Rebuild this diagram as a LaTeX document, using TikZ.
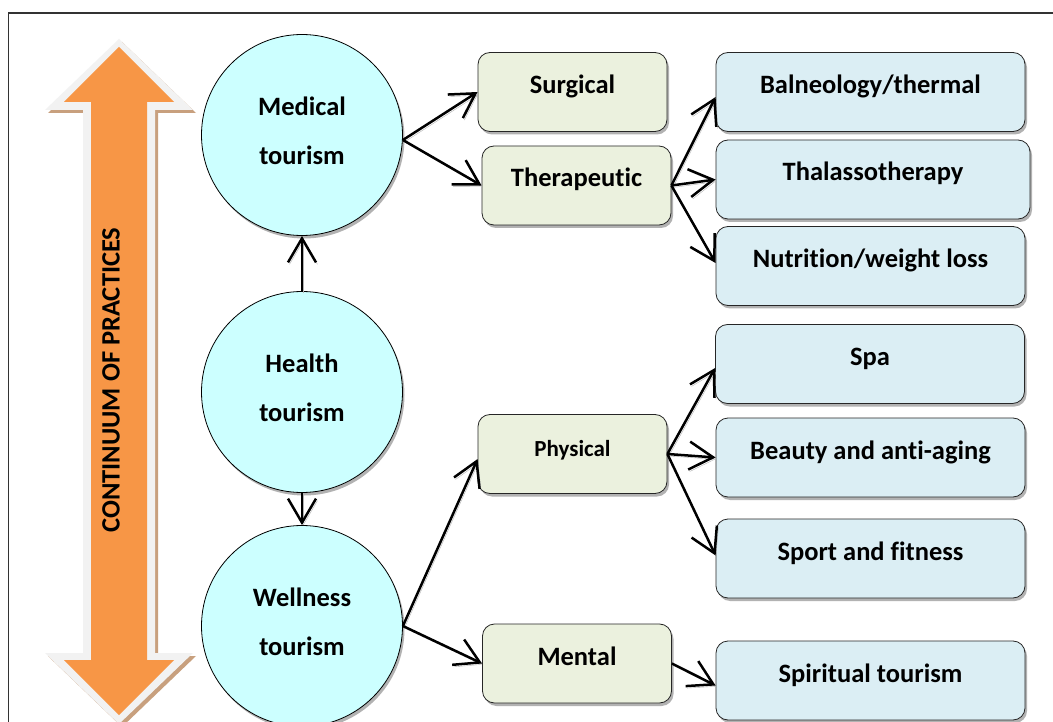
\documentclass[tikz,border=0pt]{standalone}
\usepackage{fontspec}
\setmainfont{Carlito}[RawFeature={-liga;-clig;-calt;-rlig}]
\usetikzlibrary{arrows.meta,shadows,calc}
\definecolor{cyanC}{HTML}{CCFFFF}
\definecolor{greenC}{HTML}{EBF1DE}
\definecolor{blueC}{HTML}{DBEEF4}
\definecolor{orangeC}{HTML}{F79646}
\definecolor{outlineC}{HTML}{F2F2F2}
\definecolor{tanC}{HTML}{C8A07E}
\tikzset{
  shad/.style={drop shadow={shadow xshift=2pt, shadow yshift=-3pt, fill=black!50, opacity=.6}},
  circ/.style={circle, draw=black, line width=0.8pt, fill=cyanC, minimum size=201pt, inner sep=0pt, shad,
    align=center, font=\fontsize{26.5}{49}\selectfont\bfseries, text height=65pt, text depth=6pt},
  gbox/.style={rectangle, rounded corners=12pt, draw=black!85, line width=0.8pt, fill=greenC, shad,
    minimum width=189pt, minimum height=79pt, inner sep=0pt, font=\fontsize{26.5}{30}\selectfont\bfseries,
    text height=16pt, text depth=13pt},
  bbox/.style={gbox, fill=blueC, minimum width=309pt},
  conn/.style={draw=black, line width=2.5pt, -{Straight Barb[length=24pt,width=28pt]},
    preaction={draw=black!30, transform canvas={shift={(1.5pt,-2pt)}}}},
}
\begin{document}
\begin{tikzpicture}[x=1pt,y=-1pt]
\useasboundingbox (0,0) rectangle (1053,722);
\clip (0,0) rectangle (1053,722);
\fill[white] (0,0) rectangle (1053,722);
% frame
\draw[line width=1.5pt, black!80] (8.5,13) rectangle (1080,760);
% continuum arrow
\fill[tanC] ($(119,39)+(3,3)$) -- ++(-74,71) -- ++(38,0) -- ++(0,543) -- ++(-38,0) -- ++(74,71) -- ++(74,-71) -- ++(-38,0) -- ++(0,-543) -- ++(38,0) -- cycle;
\fill[outlineC] (119,39) -- ++(-74,71) -- ++(38,0) -- ++(0,543) -- ++(-38,0) -- ++(74,71) -- ++(74,-71) -- ++(-38,0) -- ++(0,-543) -- ++(38,0) -- cycle;
\fill[orangeC] (119,47) -- (64,102) -- (91,102) -- (91,660) -- (64,660) -- (119,715) -- (174,660) -- (147,660) -- (147,102) -- (174,102) -- cycle;
\node[rotate=90, font=\fontsize{26.5}{30}\selectfont\bfseries, inner sep=0pt] (cont) at (111,380) {CONTINUUM OF PRACTICES};
% circles
\node[circ] (med) at (302,135) {Medical\\tourism};
\node[circ] (hea) at (302,392) {Health\\tourism};
\node[circ] (wel) at (302,626) {Wellness\\tourism};
% green boxes
\node[gbox] (sur) at (572.5,92) {Surgical};
\node[gbox] (the) at (576.5,185.5) {Therapeutic};
\node[gbox, font=\fontsize{23}{28}\selectfont\bfseries, text height=16pt, text depth=11pt] (phy) at (572.5,454) {Physical};
\node[gbox] (men) at (577,663.5) {Mental};
% blue boxes
\node[bbox] (bal) at (870.5,92) {Balneology/thermal};
\node[bbox, minimum width=314pt] (tha) at (873,179.5) {Thalassotherapy};
\node[bbox] (nut) at (870.5,266) {Nutrition/weight loss};
\node[bbox] (spa) at (870,364) {Spa};
\node[bbox] (bea) at (870.5,457.5) {Beauty and anti-aging};
\node[bbox] (spo) at (870.5,558.5) {Sport and fitness};
\node[bbox] (spi) at (870.5,680.5) {Spiritual tourism};
% connectors
\draw[conn] (hea.north) -- (med.south);
\draw[conn] (hea.south) -- (wel.north);
\draw[conn] ($(med.east)+(0,5)$) -- (sur.west);
\draw[conn] ($(med.east)+(0,5)$) -- (the.west);
\draw[conn] (the.east) -- ($(bal.west)+(0,5)$);
\draw[conn] (the.east) -- (tha.west);
\draw[conn] (the.east) -- ($(nut.west)+(0,-3)$);
\draw[conn] (wel.east) -- ($(phy.west)+(0,5)$);
\draw[conn] (wel.east) -- (men.west);
\draw[conn] (phy.east) -- ($(spa.west)+(0,4)$);
\draw[conn] (phy.east) -- (bea.west);
\draw[conn] (phy.east) -- ($(spo.west)+(0,-3)$);
\draw[conn] (men.east) -- ($(spi.west)+(0,5)$);
\end{tikzpicture}
\end{document}
